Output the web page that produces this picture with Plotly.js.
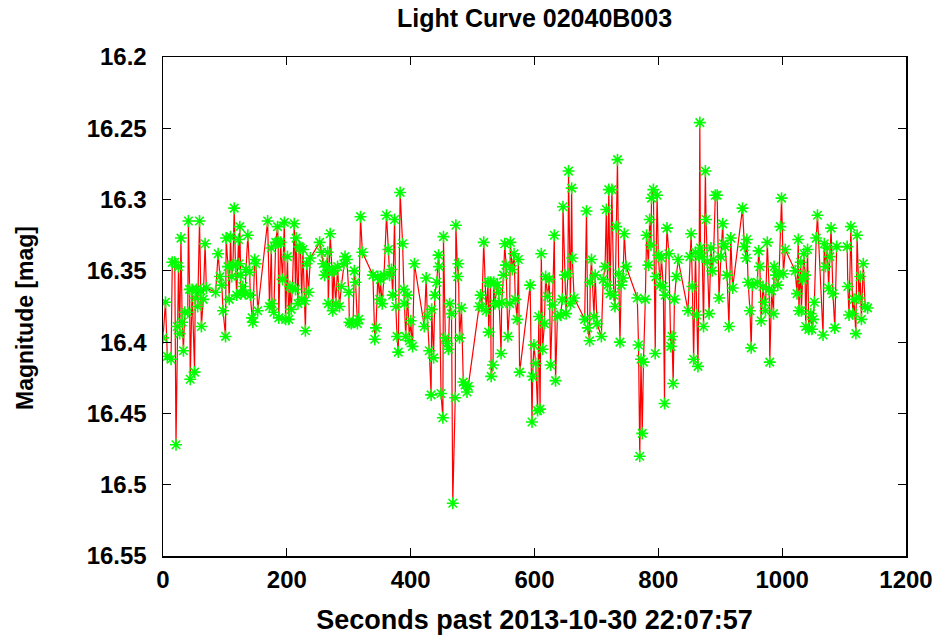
<!DOCTYPE html>
<html>
<head>
<meta charset="utf-8">
<script src="https://cdn.plot.ly/plotly-3.0.1.min.js"></script>
<style>html,body{margin:0;padding:0;background:#fff;}#chart{width:942px;height:641px;}</style>
</head>
<body>
<div id="chart"></div>
<script>
const seconds = [0,4,7,13,15,19,21,23,25,27,29,31,33,35,40,41,43,44,47,51,52,54,56,59,61,62,65,68,70,85,89,92,95,97,101,102,105,107,109,111,113,115,117,119,122,123,124,125,126,129,133,134,137,140,141,144,145,148,150,153,169,172,175,176,179,182,185,186,187,190,193,196,198,201,203,205,207,209,212,214,215,218,220,222,224,226,229,230,232,235,238,253,256,259,261,264,266,267,270,273,274,276,279,282,285,288,292,294,297,300,301,304,307,309,311,314,316,319,322,339,342,344,347,350,351,354,357,361,364,366,369,371,374,376,378,380,383,387,389,390,392,395,398,400,403,406,422,425,427,430,433,434,437,439,442,445,446,449,452,453,456,459,461,463,466,468,472,473,476,477,479,482,485,488,491,493,511,513,515,518,522,525,526,529,530,533,534,536,540,542,543,546,547,550,552,554,557,560,561,564,567,569,572,574,576,593,596,597,599,602,605,607,609,611,613,616,618,621,624,626,629,632,634,637,642,645,646,649,651,654,655,658,660,661,664,681,684,686,689,690,692,696,698,701,708,711,714,716,718,720,722,725,728,730,732,734,736,738,740,743,745,748,766,768,770,772,774,776,779,781,784,786,788,789,792,795,796,798,800,803,805,808,810,811,814,817,820,822,824,826,829,832,848,851,853,855,857,860,862,864,866,867,868,871,873,876,877,879,882,885,887,889,892,895,898,901,904,905,908,911,914,917,920,936,939,942,943,945,948,950,952,960,962,964,966,969,971,973,976,979,980,983,986,987,990,993,995,997,999,1002,1005,1021,1024,1026,1027,1030,1031,1033,1035,1037,1038,1041,1043,1046,1048,1050,1052,1055,1057,1066,1068,1070,1073,1075,1077,1079,1082,1085,1088,1105,1106,1108,1111,1114,1116,1119,1121,1124,1126,1128,1131,1134,1138];
const magnitude = [16.397,16.372,16.410,16.412,16.344,16.344,16.472,16.389,16.347,16.394,16.327,16.386,16.406,16.379,16.379,16.315,16.363,16.426,16.363,16.421,16.369,16.363,16.375,16.315,16.364,16.389,16.370,16.331,16.362,16.365,16.338,16.354,16.360,16.378,16.396,16.327,16.347,16.370,16.326,16.354,16.346,16.306,16.346,16.367,16.328,16.345,16.319,16.353,16.366,16.361,16.366,16.349,16.325,16.351,16.367,16.383,16.386,16.342,16.345,16.378,16.315,16.375,16.334,16.373,16.379,16.330,16.319,16.330,16.383,16.330,16.356,16.316,16.384,16.340,16.384,16.361,16.377,16.362,16.317,16.363,16.327,16.373,16.333,16.334,16.370,16.335,16.371,16.392,16.345,16.365,16.341,16.330,16.337,16.345,16.353,16.347,16.337,16.373,16.324,16.350,16.378,16.350,16.373,16.347,16.375,16.361,16.345,16.340,16.342,16.365,16.386,16.387,16.386,16.350,16.358,16.387,16.384,16.312,16.337,16.353,16.398,16.390,16.354,16.370,16.356,16.373,16.353,16.311,16.335,16.353,16.349,16.367,16.314,16.375,16.396,16.407,16.295,16.331,16.363,16.373,16.396,16.367,16.399,16.385,16.403,16.345,16.389,16.355,16.382,16.406,16.437,16.377,16.411,16.367,16.358,16.339,16.347,16.436,16.453,16.326,16.397,16.401,16.405,16.373,16.380,16.513,16.439,16.318,16.354,16.345,16.397,16.376,16.428,16.430,16.435,16.431,16.375,16.367,16.375,16.330,16.378,16.358,16.393,16.358,16.424,16.416,16.358,16.373,16.360,16.365,16.373,16.408,16.372,16.353,16.331,16.346,16.396,16.373,16.330,16.349,16.338,16.370,16.384,16.342,16.421,16.360,16.456,16.424,16.402,16.415,16.448,16.382,16.447,16.338,16.405,16.387,16.354,16.368,16.356,16.416,16.374,16.325,16.427,16.382,16.381,16.370,16.305,16.353,16.380,16.352,16.280,16.373,16.292,16.341,16.369,16.384,16.308,16.390,16.399,16.358,16.342,16.382,16.353,16.387,16.396,16.356,16.347,16.307,16.360,16.293,16.366,16.293,16.367,16.375,16.319,16.272,16.352,16.400,16.360,16.355,16.324,16.347,16.369,16.402,16.480,16.412,16.464,16.414,16.370,16.325,16.346,16.314,16.332,16.299,16.293,16.408,16.354,16.297,16.339,16.360,16.341,16.361,16.443,16.367,16.320,16.338,16.403,16.396,16.429,16.370,16.354,16.342,16.378,16.340,16.324,16.361,16.412,16.337,16.381,16.417,16.340,16.246,16.334,16.340,16.389,16.280,16.314,16.344,16.380,16.334,16.350,16.342,16.297,16.297,16.369,16.340,16.317,16.331,16.333,16.353,16.389,16.327,16.362,16.306,16.333,16.341,16.328,16.358,16.378,16.404,16.360,16.358,16.336,16.347,16.385,16.361,16.372,16.378,16.330,16.363,16.414,16.364,16.380,16.347,16.353,16.360,16.352,16.319,16.299,16.352,16.335,16.350,16.366,16.328,16.378,16.344,16.378,16.356,16.338,16.353,16.389,16.335,16.391,16.380,16.391,16.384,16.372,16.327,16.311,16.395,16.331,16.347,16.334,16.362,16.340,16.320,16.366,16.390,16.333,16.333,16.361,16.381,16.319,16.380,16.370,16.394,16.325,16.369,16.354,16.384,16.345,16.375,16.376];

const titleText = 'Light Curve 02040B003';
const xTitleText = 'Seconds past 2013-10-30 22:07:57';
const yTitleText = 'Magnitude [mag]';

function bold(size) {
  return {family: 'Liberation Sans, Arial, sans-serif', size: size, color: '#000', weight: 'bold'};
}

const trace = {
  x: seconds,
  y: magnitude,
  type: 'scatter',
  mode: 'lines+markers',
  line: {color: '#ff0000', width: 1.2},
  marker: {symbol: 'asterisk-open', size: 10, color: '#00ff00', line: {color: '#00ff00', width: 1.6}},
  hoverinfo: 'x+y'
};

const layout = {
  width: 942, height: 641,
  margin: {l: 163, r: 36, t: 57, b: 85},
  paper_bgcolor: '#fff', plot_bgcolor: '#fff',
  showlegend: false,
  font: bold(24),
  title: {text: titleText, font: bold(25), x: 0.5, xref: 'paper', xanchor: 'center', y: 0.972, yref: 'container', yanchor: 'middle'},
  xaxis: {
    range: [0, 1200], dtick: 200, tick0: 0,
    ticks: 'inside', ticklen: 8, tickwidth: 1, tickcolor: '#000',
    showline: true, linecolor: '#000', linewidth: 1.5, mirror: 'ticks',
    showgrid: false, zeroline: false,
    tickfont: bold(24),
    ticklabelstandoff: 2,
    title: {text: xTitleText, font: bold(27), standoff: 18}
  },
  yaxis: {
    range: [16.55, 16.2], dtick: 0.05, tick0: 16.2,
    ticks: 'inside', ticklen: 8, tickwidth: 1, tickcolor: '#000',
    showline: true, linecolor: '#000', linewidth: 1.5, mirror: 'ticks',
    showgrid: false, zeroline: false,
    tickfont: bold(24),
    ticklabelstandoff: 10
  },
  annotations: [{
    text: yTitleText, font: bold(23), textangle: -90,
    xref: 'paper', yref: 'paper', x: -0.1857, y: 0.477,
    xanchor: 'center', yanchor: 'middle', showarrow: false
  }]
};

Plotly.newPlot('chart', [trace], layout, {displayModeBar: false, staticPlot: true});
</script>
</body>
</html>
